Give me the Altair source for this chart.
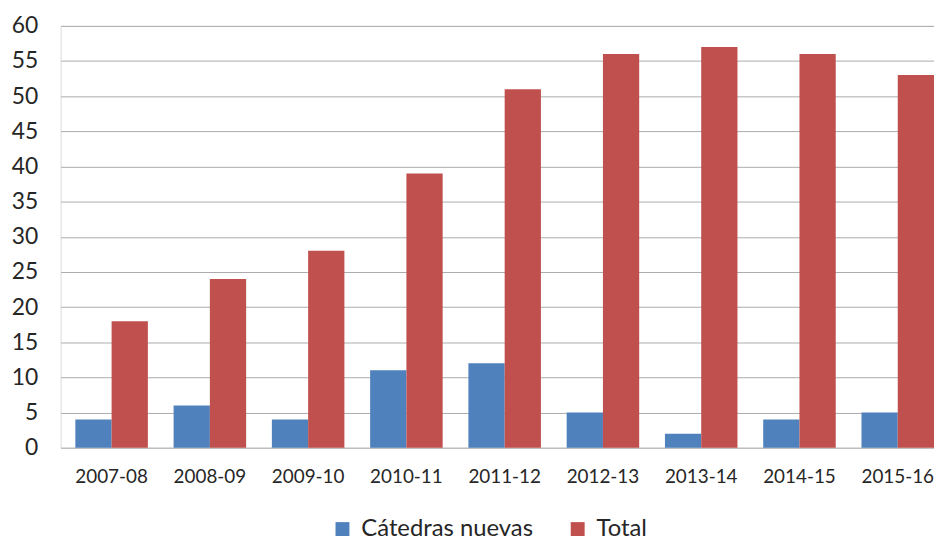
import altair as alt
import pandas as pd

years = ["2007-08", "2008-09", "2009-10", "2010-11", "2011-12",
         "2012-13", "2013-14", "2014-15", "2015-16"]
nuevas = [4, 6, 4, 11, 12, 5, 2, 4, 5]
total = [18, 24, 28, 39, 51, 56, 57, 56, 53]
series = ["Cátedras nuevas", "Total"]
colors = ["#4F81BD", "#C0504D"]

rows = []
for y, n, t in zip(years, nuevas, total):
    rows.append({"year": y, "serie": series[0], "value": n})
    rows.append({"year": y, "serie": series[1], "value": t})
df = pd.DataFrame(rows)

FONT = "Lato"
TXT = "#262626"

chart = alt.Chart(df).mark_bar().encode(
    x=alt.X("year:N", sort=years, title=None,
            scale=alt.Scale(paddingInner=0.262, paddingOuter=0.075, align=1),
            axis=alt.Axis(labelAngle=0, domain=False, ticks=False, labelPadding=20,
                          labelFontSize=19, labelFont=FONT, labelColor=TXT)),
    xOffset=alt.XOffset("serie:N", sort=series, scale=alt.Scale(paddingInner=0, paddingOuter=0)),
    y=alt.Y("value:Q", title=None,
            scale=alt.Scale(domain=[0, 60], nice=False),
            axis=alt.Axis(values=list(range(0, 61, 5)), domain=False, ticks=False,
                          labelPadding=23, labelFontSize=23, labelFont=FONT, labelColor=TXT,
                          gridColor="#ABABAB", gridWidth=1, gridOpacity=1)),
    color=alt.Color("serie:N", sort=series, title=None,
                    scale=alt.Scale(domain=series, range=colors),
                    legend=alt.Legend(orient="none", direction="horizontal",
                                      legendX=272, legendY=495,
                                      symbolType="square", symbolSize=196,
                                      symbolStrokeWidth=0, symbolOpacity=1,
                                      labelFontSize=24, labelFont=FONT, labelColor=TXT,
                                      labelLimit=0,
                                      labelOffset=7, columnPadding=32)),
).properties(
    width=880, height=425,
    padding={"left": 53, "top": 16, "right": 0, "bottom": 93},
    autosize=alt.AutoSizeParams(type="none"),
).configure_view(stroke=None).configure(background="white")

chart.save("out.html", embed_options={"renderer": "svg", "actions": False})
